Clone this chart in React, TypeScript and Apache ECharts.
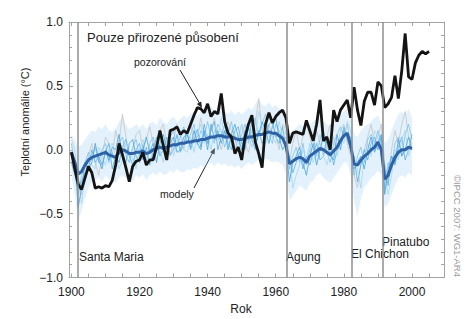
import React, { useEffect, useRef } from "react";
import * as echarts from "echarts";

// ---------- data ----------
const obsStartYear = 1900;
const observed = [
  -0.02, -0.15, -0.27, -0.31, -0.22, -0.13, -0.18, -0.3, -0.29, -0.3,
  -0.28, -0.29, -0.24, -0.12, 0.05, -0.04, -0.14, -0.25, -0.13, -0.09,
  -0.08, -0.02, -0.12, -0.08, -0.08, 0.02, 0.15, 0.03, -0.08, 0.15,
  0.16, 0.18, 0.12, 0.15, 0.13, 0.2, 0.27, 0.33, 0.32, 0.29,
  0.36, 0.26, 0.3, 0.28, 0.44, 0.22, 0.13, 0.1, -0.03, 0.02,
  -0.08, 0.1, 0.2, 0.27, 0.06, -0.03, -0.14, 0.2, 0.29, 0.21,
  0.26, 0.29, 0.31, 0.25, 0.05, 0.13, 0.14, 0.13, 0.12, 0.23,
  0.15, 0.07, 0.2, 0.39, 0.07, 0.1, 0.0, 0.31, 0.22, 0.31,
  0.35, 0.39, 0.25, 0.49, 0.31, 0.19, 0.38, 0.45, 0.45, 0.35,
  0.53, 0.5, 0.33, 0.36, 0.41, 0.58, 0.4, 0.62, 0.91, 0.57,
  0.55, 0.68, 0.74, 0.77, 0.75, 0.77,
];

const modelStartYear = 1900;
const modelMean = [
  -0.02, -0.1, -0.19, -0.17, -0.12, -0.08, -0.06, -0.05, -0.04, -0.03,
  -0.02, -0.04, -0.05, -0.06, -0.02, 0.0, -0.01, -0.03, -0.03, -0.02,
  -0.02, -0.01, -0.03, -0.02, 0.0, 0.01, 0.02, 0.01, 0.02, 0.03,
  0.04, 0.04, 0.05, 0.05, 0.06, 0.06, 0.07, 0.07, 0.08, 0.08,
  0.09, 0.1, 0.1, 0.11, 0.11, 0.1, 0.1, 0.1, 0.09, 0.08,
  0.08, 0.09, 0.1, 0.1, 0.11, 0.12, 0.12, 0.13, 0.14, 0.13,
  0.13, 0.11, 0.09, 0.03, -0.11, -0.09, -0.07, -0.06, -0.07, -0.1,
  -0.05, -0.03, -0.01, 0.01, 0.0, -0.02, -0.04, -0.01, 0.02, 0.07,
  0.11, 0.13, 0.03, -0.11, -0.12, -0.08, -0.05, -0.03, 0.0, 0.02,
  0.06, 0.0, -0.23, -0.2, -0.12, -0.06, -0.02, 0.0, 0.0, 0.02,
  0.01,
];

const ensembleUpper = [
  0.12, 0.08, 0.02, 0.04, 0.08, 0.12, 0.15, 0.14, 0.18, 0.16,
  0.2, 0.15, 0.14, 0.17, 0.22, 0.26, 0.2, 0.16, 0.18, 0.2,
  0.17, 0.2, 0.16, 0.21, 0.22, 0.19, 0.25, 0.22, 0.2, 0.24,
  0.26, 0.22, 0.24, 0.27, 0.25, 0.28, 0.3, 0.26, 0.3, 0.28,
  0.32, 0.34, 0.3, 0.29, 0.33, 0.3, 0.28, 0.31, 0.27, 0.3,
  0.28, 0.3, 0.33, 0.31, 0.36, 0.4, 0.35, 0.34, 0.37, 0.33,
  0.35, 0.32, 0.3, 0.27, 0.12, 0.15, 0.17, 0.2, 0.18, 0.15,
  0.2, 0.22, 0.24, 0.25, 0.22, 0.2, 0.18, 0.22, 0.25, 0.27,
  0.3, 0.32, 0.26, 0.12, 0.1, 0.15, 0.18, 0.2, 0.22, 0.25,
  0.27, 0.2, 0.05, 0.08, 0.15, 0.22, 0.28, 0.3, 0.27, 0.32,
  0.25,
];

const ensembleLower = [
  -0.2, -0.35, -0.55, -0.48, -0.38, -0.3, -0.25, -0.24, -0.22, -0.25,
  -0.2, -0.23, -0.25, -0.26, -0.22, -0.2, -0.22, -0.24, -0.25, -0.2,
  -0.22, -0.19, -0.24, -0.2, -0.18, -0.2, -0.17, -0.2, -0.19, -0.16,
  -0.18, -0.15, -0.17, -0.18, -0.15, -0.16, -0.14, -0.15, -0.12, -0.14,
  -0.12, -0.1, -0.13, -0.1, -0.12, -0.11, -0.13, -0.12, -0.14, -0.12,
  -0.15, -0.12, -0.1, -0.12, -0.1, -0.08, -0.1, -0.07, -0.08, -0.1,
  -0.09, -0.1, -0.12, -0.18, -0.4, -0.36, -0.32, -0.28, -0.3, -0.32,
  -0.26, -0.24, -0.2, -0.18, -0.22, -0.24, -0.26, -0.22, -0.18, -0.14,
  -0.1, -0.1, -0.2, -0.4, -0.52, -0.38, -0.3, -0.26, -0.22, -0.2,
  -0.16, -0.2, -0.45, -0.42, -0.35, -0.28, -0.22, -0.2, -0.22, -0.18,
  -0.2,
];

const runA = [
  0.05, -0.12, -0.35, -0.2, -0.1, -0.02, -0.08, 0.02, -0.1, 0.0,
  0.05, -0.1, -0.02, -0.12, 0.06, 0.1, -0.04, -0.1, 0.02, 0.08,
  -0.05, 0.04, -0.1, 0.05, 0.1, -0.02, 0.12, 0.05, -0.06, 0.1,
  0.15, 0.02, 0.1, 0.18, 0.05, 0.12, 0.2, 0.04, 0.15, 0.1,
  0.22, 0.1, 0.05, 0.2, 0.15, 0.02, 0.12, 0.22, 0.08, 0.0,
  0.12, 0.2, 0.05, 0.15, 0.25, 0.1, 0.2, 0.28, 0.12, 0.05,
  0.2, 0.15, 0.08, 0.1, -0.15, -0.05, 0.02, -0.1, 0.05, -0.12,
  0.0, 0.1, -0.05, 0.08, 0.15, -0.02, -0.1, 0.05, 0.12, 0.18,
  0.1, 0.2, 0.05, -0.2, -0.05, 0.02, -0.1, 0.08, 0.12, 0.05,
  0.15, 0.05, -0.3, -0.1, -0.15, 0.05, 0.1, -0.05, 0.12, 0.2,
  0.08,
];
const runB = [
  -0.1, -0.2, -0.3, -0.25, -0.18, -0.15, 0.0, -0.1, -0.05, -0.12,
  -0.02, 0.05, -0.15, -0.05, -0.1, 0.02, 0.08, -0.05, -0.12, 0.0,
  0.05, -0.08, 0.02, -0.12, -0.02, 0.1, -0.05, 0.0, 0.1, -0.04,
  0.0, 0.12, -0.02, 0.05, 0.15, 0.0, 0.08, 0.16, 0.02, 0.2,
  0.05, 0.15, 0.22, 0.0, 0.1, 0.2, 0.05, 0.0, 0.15, 0.18,
  0.05, 0.0, 0.18, 0.08, 0.0, 0.15, 0.05, 0.1, 0.2, 0.22,
  0.1, 0.05, 0.18, 0.0, -0.05, -0.18, -0.1, -0.02, -0.15, -0.05,
  -0.12, -0.02, 0.05, -0.08, -0.05, 0.08, 0.02, -0.12, 0.0, 0.05,
  0.18, 0.08, 0.0, -0.05, -0.25, -0.12, 0.0, -0.08, 0.05, 0.1,
  0.0, 0.1, -0.15, -0.28, -0.05, -0.12, 0.02, 0.1, -0.08, 0.0,
  0.12,
];
const runC = [
  0.08, 0.0, -0.25, -0.42, -0.2, -0.05, -0.12, -0.15, 0.02, -0.05,
  -0.12, 0.0, 0.05, -0.05, -0.15, -0.08, 0.05, 0.0, -0.08, -0.15,
  0.0, 0.08, -0.05, 0.02, -0.08, 0.05, 0.0, -0.1, 0.08, 0.12,
  -0.05, 0.05, 0.15, 0.0, -0.02, 0.1, -0.02, 0.12, 0.2, 0.05,
  0.12, 0.0, 0.15, 0.08, 0.25, 0.1, 0.18, 0.02, 0.12, 0.05,
  0.2, 0.1, 0.12, 0.02, 0.1, 0.3, 0.18, 0.05, 0.15, 0.1,
  0.05, 0.22, 0.1, 0.15, -0.05, -0.3, -0.2, -0.12, 0.0, -0.08,
  0.05, -0.1, 0.0, 0.12, -0.05, -0.12, 0.0, 0.1, -0.05, 0.1,
  0.05, 0.22, 0.15, -0.1, -0.15, -0.3, -0.05, 0.05, -0.05, 0.15,
  0.1, -0.05, -0.2, -0.35, -0.2, 0.0, -0.08, 0.08, 0.15, -0.05,
  0.05,
];
const runD = [
  -0.05, -0.08, -0.45, -0.3, -0.1, -0.15, -0.1, 0.05, -0.08, -0.15,
  0.0, -0.08, 0.02, 0.0, 0.12, -0.05, -0.1, 0.05, 0.08, -0.05,
  -0.1, 0.0, 0.1, -0.02, 0.05, -0.1, 0.05, 0.12, 0.0, 0.05,
  0.1, -0.02, 0.0, 0.1, 0.12, 0.02, 0.15, 0.05, 0.0, 0.15,
  0.0, 0.2, 0.08, 0.15, 0.05, 0.15, 0.0, 0.12, 0.2, 0.1,
  0.0, 0.15, 0.08, 0.22, 0.05, 0.12, 0.22, 0.15, 0.05, 0.18,
  0.25, 0.1, 0.0, 0.05, -0.25, -0.1, -0.05, 0.02, -0.1, -0.2,
  -0.05, 0.05, -0.12, 0.0, 0.1, 0.05, -0.05, -0.08, 0.12, 0.0,
  0.15, 0.1, 0.1, -0.15, -0.1, -0.05, -0.15, 0.0, 0.1, -0.02,
  0.05, 0.12, -0.35, -0.15, -0.05, -0.1, 0.08, -0.05, 0.0, 0.1,
  0.0,
];
const runGrey = [
  0.0, -0.15, -0.2, -0.35, -0.25, -0.05, 0.05, -0.1, -0.2, -0.05,
  0.1, 0.05, -0.05, 0.15, 0.05, 0.28, 0.1, -0.05, 0.0, 0.12,
  0.15, 0.0, 0.08, 0.18, 0.05, 0.0, 0.15, 0.2, 0.05, -0.05,
  0.08, 0.2, 0.1, 0.0, 0.15, 0.22, 0.05, 0.1, 0.25, 0.12,
  0.05, 0.15, 0.25, 0.1, 0.0, 0.12, 0.22, 0.15, 0.0, 0.1,
  0.2, 0.05, -0.02, 0.1, 0.2, 0.4, 0.15, 0.05, 0.2, 0.1,
  0.12, 0.0, 0.2, 0.15, -0.1, 0.05, 0.15, 0.0, 0.1, 0.2,
  0.1, 0.0, 0.15, 0.05, -0.05, 0.1, 0.2, 0.08, 0.0, 0.15,
  0.2, 0.05, -0.05, -0.2, -0.3, -0.1, 0.0, 0.1, 0.2, 0.05,
  0.1, 0.2, -0.1, -0.25, 0.0, 0.15, 0.05, 0.2, 0.3, 0.1,
  0.05,
];

const volcanoNames = ["Santa Maria", "Agung", "El Chichon", "Pinatubo"];
const volcanoYears = [1902, 1963.1, 1982.3, 1991.5];

const xLabelYears = [1900, 1920, 1940, 1960, 1980, 2000];
const xTickYears = [
  1900, 1905, 1910, 1915, 1920, 1925, 1930, 1935, 1940, 1945, 1950,
  1955, 1960, 1965, 1970, 1975, 1980, 1985, 1990, 1995, 2000, 2005,
];

const FONT = "'Liberation Sans', Arial, Helvetica, sans-serif";

function pairs(start: number, vals: number[]) {
  return vals.map((v, i) => [start + i, v]);
}

export default function App() {
  const ref = useRef<HTMLDivElement>(null);

  useEffect(() => {
    document.body.style.margin = "0";
    if (!ref.current) return;
    const chart = echarts.init(ref.current, undefined, { renderer: "svg" });

    const axisGrey = "#a3a3a3";
    const xMin = 1899.3;
    const xMax = 2009.4;

    const runLine = (data: number[], color: string, width = 0.8) => ({
      type: "line",
      data: pairs(modelStartYear, data),
      symbol: "none",
      silent: true,
      lineStyle: { color, width },
      z: 2,
    });

    const option: any = {
      animation: false,
      grid: { left: 69, right: 32, top: 22, bottom: 41.5, containLabel: false },
      xAxis: [
        {
          type: "value",
          min: xMin,
          max: xMax,
          position: "bottom",
          axisLine: { show: true, onZero: false, lineStyle: { color: axisGrey, width: 1 } },
          axisTick: { show: true, inside: true, length: 4, customValues: xTickYears, lineStyle: { color: axisGrey } },
          axisLabel: {
            customValues: xLabelYears,
            color: "#222",
            fontSize: 12,
            fontFamily: FONT,
            margin: 8,
            formatter: (v: number) => String(Math.round(v)),
          },
          splitLine: { show: false },
        },
        {
          type: "value",
          min: xMin,
          max: xMax,
          position: "top",
          axisLine: { show: true, onZero: false, lineStyle: { color: axisGrey, width: 1 } },
          axisTick: { show: true, inside: true, length: 4, customValues: xTickYears, lineStyle: { color: axisGrey } },
          axisLabel: { show: false },
          splitLine: { show: false },
        },
      ],
      yAxis: [
        {
          type: "value",
          min: -1,
          max: 1,
          interval: 0.5,
          position: "left",
          axisLine: { show: true, onZero: false, lineStyle: { color: axisGrey, width: 1 } },
          axisTick: { show: true, inside: true, length: 4, lineStyle: { color: axisGrey } },
          minorTick: { show: true, splitNumber: 5, length: 3, lineStyle: { color: axisGrey } },
          axisLabel: {
            color: "#222",
            fontSize: 12,
            fontFamily: FONT,
            margin: 6,
            formatter: (v: number) => v.toFixed(1).replace("-", "\u2212"),
          },
          splitLine: { show: false },
        },
        {
          type: "value",
          min: -1,
          max: 1,
          interval: 0.5,
          position: "right",
          axisLine: { show: true, onZero: false, lineStyle: { color: axisGrey, width: 1 } },
          axisTick: { show: true, inside: true, length: 4, lineStyle: { color: axisGrey } },
          minorTick: { show: true, splitNumber: 5, length: 3, lineStyle: { color: axisGrey } },
          axisLabel: { show: false },
          splitLine: { show: false },
        },
      ],
      series: [
        {
          type: "custom",
          silent: true,
          data: [0],
          z: 1,
          renderItem: (_params: any, api: any) => {
            const pts: number[][] = [];
            ensembleUpper.forEach((v, i) => pts.push(api.coord([modelStartYear + i, v])));
            for (let i = ensembleLower.length - 1; i >= 0; i--) {
              pts.push(api.coord([modelStartYear + i, ensembleLower[i]]));
            }
            return {
              type: "polygon",
              shape: { points: pts },
              style: { fill: "rgba(160, 210, 242, 0.3)", stroke: "none" },
            };
          },
        },
        runLine(runGrey, "#c9c9c9", 0.9),
        runLine(runA, "#7fc2ec"),
        runLine(runB, "#5aaee3"),
        runLine(runC, "#a6d6f3"),
        runLine(runD, "#48a2dc"),
        {
          type: "line",
          data: pairs(modelStartYear, modelMean),
          symbol: "none",
          silent: true,
          lineStyle: { color: "#2e62a6", width: 3 },
          z: 3,
        },
        {
          type: "line",
          data: pairs(obsStartYear, observed),
          symbol: "none",
          silent: true,
          lineStyle: { color: "#141414", width: 2.8 },
          z: 4,
          markLine: {
            silent: true,
            symbol: "none",
            label: { show: false },
            lineStyle: { color: "#8f8f8f", width: 1.5, type: "solid" },
            data: volcanoYears.map((y) => ({ xAxis: y })),
          },
        },
      ],
      graphic: [
        {
          type: "text",
          x: 87,
          y: 37,
          style: { text: "Pouze přirozené působení", font: `13px ${FONT}`, fill: "#222", verticalAlign: "middle" },
        },
        {
          type: "text",
          x: 134,
          y: 62,
          style: { text: "pozorování", font: `10.5px ${FONT}`, fill: "#222", verticalAlign: "middle" },
        },
        { type: "line", shape: { x1: 180, y1: 70, x2: 200, y2: 104 }, style: { stroke: "#222", lineWidth: 1 } },
        {
          type: "polygon",
          shape: { points: [[202, 108], [196.8, 104.1], [201.2, 101.6]] },
          style: { fill: "#222" },
        },
        {
          type: "text",
          x: 160,
          y: 194,
          style: { text: "modely", font: `10.5px ${FONT}`, fill: "#222", verticalAlign: "middle" },
        },
        { type: "line", shape: { x1: 194, y1: 188, x2: 213, y2: 152 }, style: { stroke: "#222", lineWidth: 1 } },
        {
          type: "polygon",
          shape: { points: [[215, 148], [214.5, 154.5], [210.1, 152.3]] },
          style: { fill: "#222" },
        },
        {
          type: "text",
          x: 79,
          y: 256.5,
          style: { text: volcanoNames[0], font: `12px ${FONT}`, fill: "#222", verticalAlign: "middle" },
        },
        {
          type: "text",
          x: 286,
          y: 256.5,
          style: { text: volcanoNames[1], font: `12px ${FONT}`, fill: "#222", verticalAlign: "middle" },
        },
        {
          type: "text",
          x: 351,
          y: 253.5,
          style: { text: volcanoNames[2], font: `12px ${FONT}`, fill: "#222", verticalAlign: "middle" },
        },
        {
          type: "text",
          x: 382,
          y: 241.5,
          style: { text: volcanoNames[3], font: `12px ${FONT}`, fill: "#222", verticalAlign: "middle" },
        },
        {
          type: "text",
          x: 25,
          y: 122,
          rotation: Math.PI / 2,
          style: {
            text: "Teplotní anomálie (°C)",
            font: `11px ${FONT}`,
            fill: "#222",
            align: "center",
            verticalAlign: "middle",
          },
        },
        {
          type: "text",
          x: 241,
          y: 309,
          style: { text: "Rok", font: `12px ${FONT}`, fill: "#222", align: "center", verticalAlign: "middle" },
        },
        {
          type: "text",
          x: 457,
          y: 226,
          rotation: -Math.PI / 2,
          style: {
            text: "©IPCC 2007: WG1-AR4",
            font: `9.5px ${FONT}`,
            fill: "#9a9a9a",
            align: "center",
            verticalAlign: "middle",
          },
        },
      ],
    };

    chart.setOption(option);
    return () => chart.dispose();
  }, []);

  return <div ref={ref} style={{ width: 476, height: 319 }} />;
}
